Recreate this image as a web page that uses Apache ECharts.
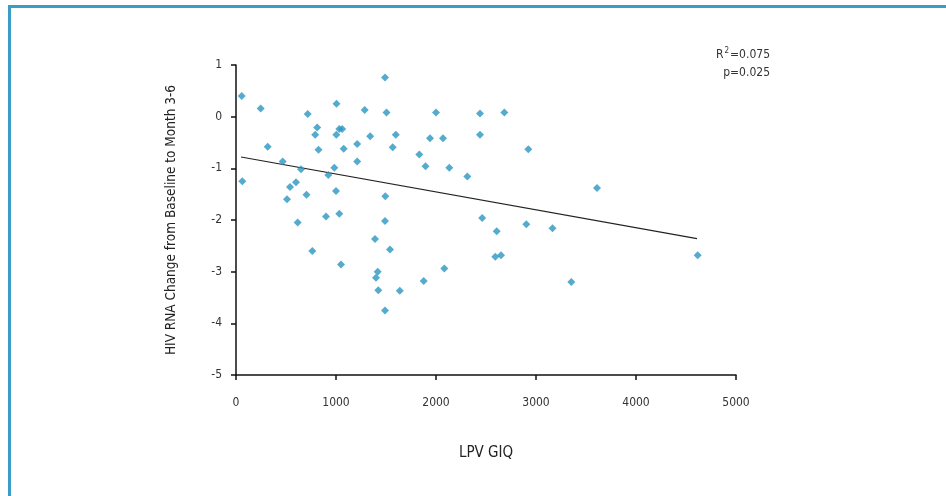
<!DOCTYPE html>
<html>
<head>
<meta charset="utf-8">
<script src="https://cdn.jsdelivr.net/npm/echarts@6/dist/echarts.min.js"></script>
<style>html,body{margin:0;padding:0;background:#fff;}#main{width:946px;height:496px;}</style>
</head>
<body>
<div id="main"></div>
<script>
var lpvX = [57,63,247,317,467,540,600,510,617,650,705,717,763,792,812,825,900,923,1005,1003,983,1000,1033,1062,1033,1077,1050,1212,1212,1287,1342,1390,1400,1417,1423,1490,1505,1493,1490,1490,1540,1567,1598,1638,1833,1895,1877,1940,2000,2070,2083,2133,2313,2440,2440,2462,2607,2593,2683,2650,2903,2923,3165,3353,3610,4617];
var rnaY = [0.40,-1.25,0.16,-0.58,-0.87,-1.36,-1.27,-1.60,-2.05,-1.02,-1.51,0.05,-2.60,-0.35,-0.21,-0.64,-1.93,-1.13,0.25,-0.35,-0.99,-1.44,-0.24,-0.24,-1.88,-0.62,-2.86,-0.53,-0.87,0.13,-0.38,-2.37,-3.12,-3.00,-3.36,0.76,0.08,-1.54,-2.02,-3.75,-2.57,-0.59,-0.35,-3.37,-0.73,-0.96,-3.18,-0.42,0.08,-0.42,-2.94,-0.99,-1.16,0.06,-0.35,-1.96,-2.22,-2.71,0.08,-2.68,-2.08,-0.63,-2.16,-3.20,-1.38,-2.68];
var trendX = [50, 4610];
var trendY = [-0.78, -2.36];
var xTicks = ['0','1000','2000','3000','4000','5000'];
var yTicks = ['-5','-4','-3','-2','-1','0','1'];

var pts = lpvX.map(function(x,i){return [x, rnaY[i]];});
var trend = trendX.map(function(x,i){return [x, trendY[i]];});
var FONT = '"Liberation Sans Narrow","DejaVu Sans Condensed","Liberation Sans",sans-serif';

var chart = echarts.init(document.getElementById('main'), null, {renderer:'canvas'});
chart.setOption({
  backgroundColor:'#fff',
  animation:false,
  grid:{left:236, right:210, top:65, bottom:121, containLabel:false},
  xAxis:{
    type:'value', min:0, max:5000, interval:1000,
    name:'LPV GIQ', nameLocation:'middle', nameGap:71,
    nameTextStyle:{fontFamily:FONT, fontSize:15, color:'#222'},
    axisLine:{show:true, onZero:false, lineStyle:{color:'#111', width:1.5}},
    axisTick:{show:true, length:5, lineStyle:{color:'#111', width:1.5}},
    axisLabel:{fontFamily:FONT, fontSize:12, color:'#333', margin:22,
      formatter:function(v){return xTicks[Math.round(v/1000)];}},
    splitLine:{show:false}
  },
  yAxis:{
    type:'value', min:-5, max:1, interval:1,
    name:'HIV RNA Change from Baseline to Month 3-6', nameLocation:'middle', nameGap:58,
    nameTextStyle:{fontFamily:FONT, fontSize:13.5, color:'#222'},
    axisLine:{show:true, onZero:false, lineStyle:{color:'#111', width:1.5}},
    axisTick:{show:true, length:5, lineStyle:{color:'#111', width:1.5}},
    axisLabel:{fontFamily:FONT, fontSize:12, color:'#333', margin:14,
      formatter:function(v){return yTicks[Math.round(v)+5];}},
    splitLine:{show:false}
  },
  series:[
    {type:'scatter', data:pts, symbol:'diamond', symbolSize:8,
     itemStyle:{color:'#2a96c0'}, z:3},
    {type:'line', data:trend, showSymbol:false, symbol:'none',
     lineStyle:{color:'#222', width:1.2}, z:2}
  ],
  graphic:[
    {type:'line', shape:{x1:8, y1:6.5, x2:946, y2:6.5}, style:{stroke:'#3a9dc6', lineWidth:3}},
    {type:'line', shape:{x1:9.5, y1:5, x2:9.5, y2:496}, style:{stroke:'#3a9dc6', lineWidth:3}},
    {type:'text', right:176, top:47, style:{
      text:'R{sup|2}=0.075', fontFamily:FONT, fontSize:12, fill:'#333', align:'right',
      rich:{sup:{fontSize:8, verticalAlign:'top', padding:[0,1,8,1], fontFamily:FONT, fill:'#333'}}}},
    {type:'text', right:176, top:67, style:{
      text:'p=0.025', fontFamily:FONT, fontSize:12, fill:'#333', align:'right'}}
  ]
});
</script>
</body>
</html>
